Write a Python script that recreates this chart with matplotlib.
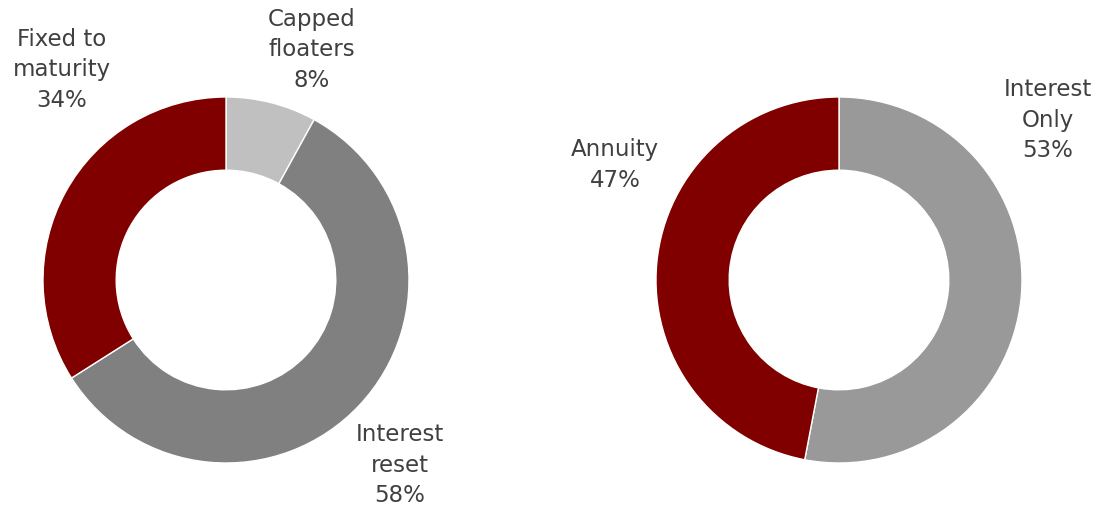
import matplotlib
matplotlib.use("Agg")
import matplotlib.pyplot as plt

# =========================
# DATA
# =========================

left_labels = ["Capped\nfloaters", "Interest\nreset", "Fixed to\nmaturity"]
left_values = [8, 58, 34]
left_colors = ["#C0C0C0", "#808080", "#800000"]
left_label_pos = [(0.47, 1.257), (0.951, -1.011), (-0.896, 1.148)]

right_labels = ["Interest\nOnly", "Annuity"]
right_values = [53, 47]
right_colors = ["#999999", "#800000"]
right_label_pos = [(1.142, 0.874), (-1.224, 0.628)]

text_color = "#404040"

# =========================
# FIGURE
# =========================

fig = plt.figure(figsize=(11, 5.07), dpi=100)

ax_left = fig.add_axes([43 / 1100, 44 / 507, 366 / 1100, 366 / 507])
ax_right = fig.add_axes([656 / 1100, 44 / 507, 366 / 1100, 366 / 507])


def donut(ax, labels, values, colors, label_pos):
    ax.pie(
        values,
        colors=colors,
        startangle=90,
        counterclock=False,
        radius=1,
        wedgeprops=dict(width=0.4, edgecolor="white", linewidth=1),
    )
    total = sum(values)
    for lab, val, (x, y) in zip(labels, values, label_pos):
        ax.text(
            x, y, f"{lab}\n{round(100 * val / total)}%",
            ha="center", va="center", fontsize=16.5, color=text_color,
            linespacing=1.4, clip_on=False,
        )
    ax.set_xlim(-1, 1)
    ax.set_ylim(-1, 1)
    ax.set_aspect("equal")
    ax.axis("off")


donut(ax_left, left_labels, left_values, left_colors, left_label_pos)
donut(ax_right, right_labels, right_values, right_colors, right_label_pos)

fig.savefig("out.png", dpi=100)
plt.close(fig)
